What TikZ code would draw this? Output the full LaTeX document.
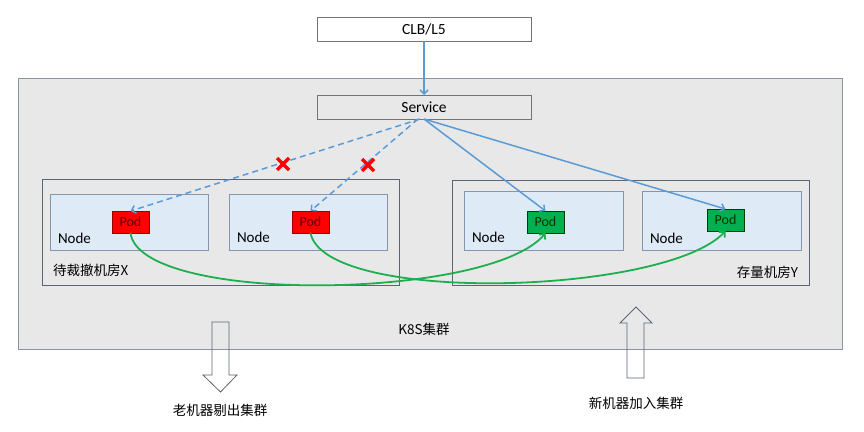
\documentclass[tikz,border=0pt]{standalone}
\usepackage{fontspec}
\setmainfont{Carlito}
\newfontfamily\cjk{Noto Sans CJK SC}
\usetikzlibrary{arrows.meta}
\definecolor{bggray}{HTML}{E8E8E9}
\definecolor{k8sline}{HTML}{8A94A6}
\definecolor{roomline}{HTML}{5C6577}
\definecolor{nodefill}{HTML}{DEEBF7}
\definecolor{nodeline}{HTML}{8496B0}
\definecolor{podred}{HTML}{FF0000}
\definecolor{podgreen}{HTML}{00B050}
\definecolor{linkblue}{HTML}{5B9BD5}
\definecolor{movegreen}{HTML}{1DAF4E}
\begin{document}
\begin{tikzpicture}[x=1pt,
y=-1pt,
every node/.style={
rectangle,
align = center,
anchor=south west,
outer sep=0pt,
inner sep=0pt,
},
box/.style={
draw,
line width=0.8pt,
},
hostbox/.style={
box,draw=nodeline,fill=nodefill,minimum width=158,
},
podbox/.style={
box,minimum height=22,minimum width=37,font=\fontsize{14}{16}\selectfont,
},
link/.style={
draw=linkblue,line width=1.5pt,-{Straight Barb[length=4pt,width=8pt]},
},
move/.style={
draw=movegreen,line width=1.8pt,-{Straight Barb[length=4pt,width=8pt]},
},
cross/.style={
draw=red,line width=3.2pt,
},
bigarrow/.style={
draw=roomline,line width=0.8pt,
}]
\useasboundingbox (0,0) rectangle (864,431);

%K8S box
\node[box,draw=k8sline,fill=bggray,minimum height=271,minimum width=824](k8s)at(18,349){};
\node[anchor=center,font=\cjk\fontsize{13.5}{16}\selectfont](k8slabel)at(424,329){K8S集群};

%CLB and Service
\node[box,draw=black!55,fill=white,minimum height=24,minimum width=214,font=\fontsize{15.5}{18}\selectfont](clb)at(317,41){CLB/L5};
\node[box,draw=black!55,fill=bggray,minimum height=24,minimum width=214,font=\fontsize{15.5}{18}\selectfont](svc)at(317,119){Service};

%rooms
\node[box,draw=roomline,fill=bggray,minimum height=106,minimum width=357,
label={[anchor=west,xshift=11,yshift=15,font=\cjk\fontsize{13.5}{16}\selectfont]south west:待裁撤机房X}](roomX)at(42,285){};
\node[box,draw=roomline,fill=bggray,minimum height=105,minimum width=357,
label={[anchor=east,xshift=-11,yshift=13,font=\cjk\fontsize{13.5}{16}\selectfont]south east:存量机房Y}](roomY)at(452,285){};

%nodes
\node[hostbox,minimum height=56,label={[anchor=base west,xshift=8,yshift=7,font=\fontsize{15}{18}\selectfont]south west:Node}](hostA)at(50,250){};
\node[hostbox,minimum height=56,label={[anchor=base west,xshift=8,yshift=8,font=\fontsize{15}{18}\selectfont]south west:Node}](hostB)at(229,250){};
\node[hostbox,minimum height=59,minimum width=159,label={[anchor=base west,xshift=8,yshift=8,font=\fontsize{15}{18}\selectfont]south west:Node}](hostC)at(464,250){};
\node[hostbox,minimum height=59,minimum width=159,label={[anchor=base west,xshift=8,yshift=7,font=\fontsize{15}{18}\selectfont]south west:Node}](hostD)at(642,250){};

%pods
\node[podbox,draw=red!60!black,fill=podred,text=red!35!black](podA)at(112,233){Pod};
\node[podbox,draw=red!60!black,fill=podred,text=red!35!black](podB)at(292,233){Pod};
\node[podbox,draw=green!25!black,fill=podgreen,text=green!20!black](podC)at(527,233){Pod};
\node[podbox,draw=green!25!black,fill=podgreen,text=green!20!black](podD)at(707,231){Pod};

%links
\draw[link](clb.south)--(svc.north);
\draw[link,dashed,dash pattern=on 6pt off 4pt]([xshift=-4]svc.south)--(podA.north);
\draw[link,dashed,dash pattern=on 6pt off 4pt]([xshift=-6]svc.south)--(podB.north);
\draw[link](svc.south)--(podC.north);
\draw[link](svc.south)--(podD.north);

%crosses
\draw[cross](283,164)+(-6,-6)--+(6,6) (283,164)+(-6,6)--+(6,-6);
\draw[cross](368,165)+(-6,-6)--+(6,6) (368,165)+(-6,6)--+(6,-6);

%migration
\draw[move](podA.south)..controls(140,305)and(490,300)..(podC.south);
\draw[move](podB.south)..controls(325,305)and(665,295)..(podD.south);

%hollow arrows
\draw[bigarrow](212,322)--(229,322)--(229,375)--(237,375)--(220.5,392)--(203,375)--(212,375)--cycle;
\draw[bigarrow](627,378)--(644,378)--(644,323)--(652,323)--(636,307)--(620,323)--(627,323)--cycle;
\node[anchor=center,font=\cjk\fontsize{13.5}{16}\selectfont](outlabel)at(220,410){老机器剔出集群};
\node[anchor=center,font=\cjk\fontsize{13.5}{16}\selectfont](inlabel)at(636,403){新机器加入集群};
\end{tikzpicture}
\end{document}
